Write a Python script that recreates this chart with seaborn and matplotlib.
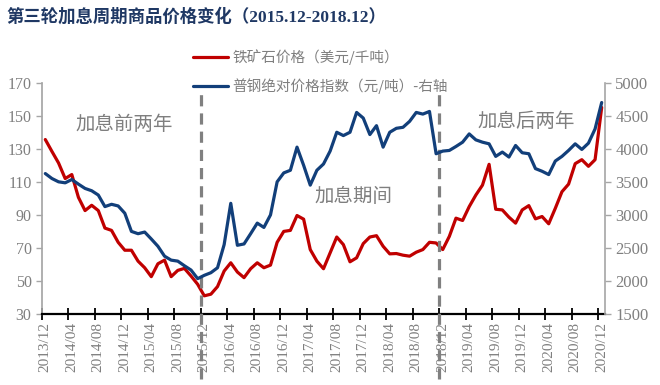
import numpy as np
import pandas as pd
import matplotlib
matplotlib.use("Agg")
import matplotlib.pyplot as plt
import seaborn as sns

# ---- data ----
months = [str(p).replace("-", "/") for p in pd.period_range("2013-12", periods=85, freq="M")]
iron_ore = [135.6, 128.4, 121.4, 112, 114.4, 100.6, 92.6, 95.8, 92.6, 82,
            80.6, 73.4, 68.6, 68.6, 62, 58, 52.6, 60.4, 62.6, 52.6,
            56.4, 57.6, 53, 48, 41, 42, 46.6, 56, 61, 55.4,
            52, 57.4, 61, 58, 59.6, 73.4, 80, 80.6, 89.6, 87.4,
            69, 62, 57.4, 67, 76.6, 72, 61.6, 64, 72.6, 76.6,
            77.4, 71, 66.4, 66.6, 65.6, 65, 67.4, 69, 73.4, 73,
            69, 77, 88, 86.6, 95, 102, 108, 120.6, 93.4, 93,
            88.6, 85, 93, 95.6, 87.6, 89, 84.6, 94, 104, 108.6,
            121, 123.4, 119.4, 123.4, 155]
steel_index = [3625, 3550, 3500, 3485, 3535, 3465, 3400, 3365, 3300, 3125,
               3160, 3135, 3025, 2750, 2715, 2740, 2635, 2525, 2375, 2315,
               2300, 2230, 2165, 2035, 2085, 2125, 2200, 2550, 3175, 2540,
               2560, 2715, 2875, 2810, 3000, 3500, 3635, 3675, 4025, 3750,
               3450, 3675, 3770, 3965, 4250, 4200, 4250, 4550, 4465, 4215,
               4350, 4025, 4250, 4310, 4325, 4415, 4550, 4525, 4565, 3925,
               3965, 3975, 4035, 4100, 4225, 4135, 4100, 4075, 3885, 3950,
               3875, 4050, 3940, 3925, 3700, 3660, 3610, 3815, 3885, 3975,
               4075, 3990, 4085, 4300, 4700]
series_names = ["铁矿石价格（美元/千吨）", "普钢绝对价格指数（元/吨）-右轴"]
phase_labels = ["加息前两年", "加息期间", "加息后两年"]
hike_start = "2015/12"
hike_end = "2018/12"
title = "第三轮加息周期商品价格变化（2015.12-2018.12）"

df = pd.DataFrame({"idx": np.arange(len(months)), "month": months,
                   "iron": iron_ore, "steel": steel_index})

# ---- style ----
sns.set_theme(style="white")
plt.rcParams["font.family"] = ["Liberation Serif", "Noto Sans CJK SC", "DejaVu Sans"]
GRAY = "#7f7f7f"
RED = "#C00000"
BLUE = "#123F7A"

fig, ax = plt.subplots(figsize=(6.6, 3.85), dpi=100)
fig.subplots_adjust(left=42/660, right=605/660, top=1-82.7/385, bottom=1-314/385)
ax2 = ax.twinx()

sns.lineplot(data=df, x="idx", y="iron", ax=ax, color=RED, lw=2.3, label=series_names[0])
sns.lineplot(data=df, x="idx", y="steel", ax=ax2, color=BLUE, lw=2.3, label=series_names[1])

h1, l1 = ax.get_legend_handles_labels()
h2, l2 = ax2.get_legend_handles_labels()
for a in (ax, ax2):
    if a.get_legend() is not None:
        a.get_legend().remove()

n = len(months)
ax.set_xlim(-0.5, n - 0.5)
ax.set_ylim(30, 170)
ax.set_yticks(np.arange(30, 171, 20))
ax2.set_ylim(1500, 5000)
ax2.set_yticks(np.arange(1500, 5001, 500))

ax.set_xticks(np.arange(-0.5, n, 4))
ax.set_xticklabels([])
ax.set_xticks(np.arange(0, n, 4), minor=True)
ax.set_xticklabels([months[i] for i in range(0, n, 4)], minor=True, rotation=90)
ax.tick_params(axis="x", which="major", direction="inout", length=8, width=1.3,
               color="black", bottom=True)
ax.tick_params(axis="x", which="minor", length=0, labelsize=11, labelcolor=GRAY, pad=6,
               bottom=True)
ax.tick_params(axis="y", direction="out", length=4, width=1, color="#a6a6a6",
               labelsize=11.5, labelcolor=GRAY, left=True)
ax2.tick_params(axis="y", direction="out", length=4, width=1, color="#a6a6a6",
                labelsize=12, labelcolor=GRAY, right=True)
ax.set_xlabel("")
ax.set_ylabel("")
ax2.set_ylabel("")
ax.grid(False)
ax2.grid(False)

for a in (ax, ax2):
    a.spines["top"].set_visible(False)
ax.spines["right"].set_visible(False)
ax.spines["left"].set_color("#a6a6a6")
ax.spines["bottom"].set_color("black")
ax.spines["bottom"].set_linewidth(1.6)
ax2.spines["left"].set_visible(False)
ax2.spines["bottom"].set_visible(False)
ax2.spines["right"].set_color("#a6a6a6")
ax2.spines["right"].set_linewidth(1.2)

# dashed hike-period lines
for m in (hike_start, hike_end):
    xpos = months.index(m) - 0.5
    ax.axvline(xpos, ymin=-0.28, ymax=0.975, color="#808080", lw=2.3,
               ls=(0, (3.5, 2.2)), clip_on=False, zorder=5)

# annotations
fig.text(124/660, 1-125/385, phase_labels[0], ha="center", va="center",
         fontsize=14, color=GRAY, family=["Noto Sans CJK SC"])
fig.text(353/660, 1-197/385, phase_labels[1], ha="center", va="center",
         fontsize=14, color=GRAY, family=["Noto Sans CJK SC"])
fig.text(526/660, 1-121/385, phase_labels[2], ha="center", va="center",
         fontsize=14, color=GRAY, family=["Noto Sans CJK SC"])

fig.text(6/660, 1-17/385, title, ha="left", va="center", fontsize=12.5,
         fontweight="bold", color="#1F3864",
         family=["Liberation Serif", "Noto Sans CJK SC"])

leg = fig.legend(h1 + h2, l1 + l2, loc="upper left", bbox_to_anchor=(193/660, 1-49/385),
                 frameon=False, fontsize=10.5, handlelength=2.4, labelspacing=0.95,
                 handletextpad=0.3, borderaxespad=0, borderpad=0)
for t in leg.get_texts():
    t.set_color(GRAY)
    t.set_family(["Noto Sans CJK SC"])

fig.savefig("out.png", dpi=100)
